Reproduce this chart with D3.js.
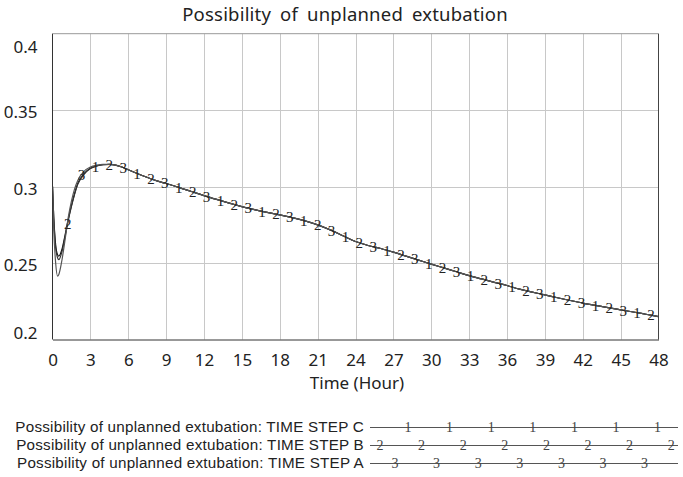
<!DOCTYPE html>
<html>
<head>
<meta charset="utf-8">
<script src="https://cdn.jsdelivr.net/npm/d3@7"></script>
<style>
  html, body { margin: 0; padding: 0; background: #fff; }
  svg { display: block; }
</style>
</head>
<body>
<svg id="chart" width="683" height="477"></svg>
<script>
// ---------- data ----------
const chartTitle = "Possibility of unplanned extubation";
const xTitle = "Time (Hour)";
const xTicks = [0, 3, 6, 9, 12, 15, 18, 21, 24, 27, 30, 33, 36, 39, 42, 45, 48];
const yTicks = [0.2, 0.25, 0.3, 0.35, 0.4];

const hours = [0, 0.1, 0.25, 0.4, 0.5, 0.75, 1, 1.25, 1.5, 1.75, 2, 2.5, 3, 3.5, 4,
  4.5, 5, 5.5, 6, 7, 8, 9, 10, 11, 12, 13, 14, 15, 16, 17, 18, 19, 20, 21, 22, 23, 24,
  25, 26, 27, 28, 29, 30, 31, 32, 33, 34, 35, 36, 37, 38, 39, 40, 41, 42, 43, 44, 45, 46, 47, 48];

// early hours (0 .. 4) differ by series
const headC = [0.300, 0.280, 0.262, 0.2555, 0.2545, 0.259, 0.2685, 0.2785, 0.2875, 0.2955, 0.302, 0.3085, 0.312, 0.3136, 0.3143];
const headB = [0.300, 0.279, 0.260, 0.2535, 0.2522, 0.2575, 0.2675, 0.278, 0.287, 0.295, 0.3015, 0.308, 0.3118, 0.3135, 0.3143];
const headA = [0.300, 0.272, 0.250, 0.2415, 0.2425, 0.252, 0.2655, 0.280, 0.2905, 0.2985, 0.304, 0.310, 0.3128, 0.314, 0.3145];
// from 4.5 h on all three coincide
const commonTail = [0.3145, 0.3141, 0.3128, 0.311, 0.3076, 0.3045, 0.302, 0.2995, 0.2968, 0.2941,
  0.2916, 0.2892, 0.2869, 0.2849, 0.2831, 0.2815, 0.2797, 0.2776, 0.275, 0.2717, 0.2679, 0.2641,
  0.2615, 0.2595, 0.2571, 0.2545, 0.2519, 0.2493, 0.2468, 0.2443, 0.2418, 0.2396, 0.2374, 0.2353,
  0.2329, 0.231, 0.2292, 0.2273, 0.2255, 0.2238, 0.2223, 0.2208, 0.2194, 0.218, 0.2165, 0.215];

const stepC = headC.concat(commonTail);
const stepB = headB.concat(commonTail);
const stepA = headA.concat(commonTail);

const seriesNames = [
  "Possibility of unplanned extubation: TIME STEP C",
  "Possibility of unplanned extubation: TIME STEP B",
  "Possibility of unplanned extubation: TIME STEP A"
];
const seriesMarks = ["1", "2", "3"];
const seriesValues = [stepC, stepB, stepA];
const markerFirst = [3.4, 1.2, 2.3];   // hour of first label along each line
const markerEvery = 3.3;               // hours between labels on the same line

// ---------- layout ----------
const svg = d3.select("#chart");
const M = { left: 52.5, right: 658.5, top: 33.7, bottom: 339.5 };
const FONT = "'Noto Sans', 'Open Sans', sans-serif";
const LEGFONT = "'Liberation Sans', Arial, sans-serif";
const SERIF = "'Liberation Serif', 'DejaVu Serif', serif";

const x = d3.scaleLinear().domain([0, 48]).range([M.left, M.right]);
const y = d3.scaleLinear().domain([0.2, 0.4]).range([M.bottom, M.top]);

// gridlines
svg.append("g")
  .selectAll("line.vg").data(xTicks.slice(1, -1)).join("line")
  .attr("x1", d => Math.round(x(d)) + 0.5).attr("x2", d => Math.round(x(d)) + 0.5)
  .attr("y1", M.top).attr("y2", M.bottom)
  .attr("stroke", "#c8c8c8").attr("stroke-width", 1);
svg.append("g")
  .selectAll("line.hg").data(yTicks.slice(1, -1)).join("line")
  .attr("x1", M.left).attr("x2", M.right)
  .attr("y1", d => Math.round(y(d)) + 0.5).attr("y2", d => Math.round(y(d)) + 0.5)
  .attr("stroke", "#c8c8c8").attr("stroke-width", 1);

// frame
svg.append("line").attr("x1", M.left).attr("x2", M.right).attr("y1", M.top).attr("y2", M.top)
  .attr("stroke", "#999");
svg.append("line").attr("x1", M.right).attr("x2", M.right).attr("y1", M.top).attr("y2", M.bottom)
  .attr("stroke", "#444");

// axes (labels only, no tick marks)
const gx = svg.append("g").attr("transform", `translate(0,${M.bottom})`)
  .call(d3.axisBottom(x).tickValues(xTicks).tickSize(0).tickPadding(14).tickFormat(d3.format("d")));
gx.select(".domain").attr("stroke", "#333");
gx.selectAll("text").attr("font-family", FONT).attr("font-size", 17).attr("fill", "#222");

const gy = svg.append("g").attr("transform", `translate(${M.left},0)`)
  .call(d3.axisLeft(y).tickValues(yTicks).tickSize(0).tickPadding(15).tickFormat(d => String(d)));
gy.select(".domain").remove();
gy.selectAll("text").attr("font-family", FONT).attr("font-size", 17).attr("fill", "#222");
// end labels are kept inside the frame
gy.selectAll(".tick").filter(d => d === 0.4).select("text").attr("dy", "1.1em");
gy.selectAll(".tick").filter(d => d === 0.2).select("text").attr("dy", "-0.08em");
gy.selectAll(".tick").filter(d => d !== 0.4 && d !== 0.2).select("text").attr("dy", "0.45em");
svg.append("line").attr("x1", M.left).attr("x2", M.left).attr("y1", M.top).attr("y2", M.bottom)
  .attr("stroke", "#333");

// titles
svg.append("text").attr("x", 345).attr("y", 21).attr("text-anchor", "middle")
  .attr("font-family", FONT).attr("font-size", 18.5).attr("letter-spacing", 0.2)
  .attr("word-spacing", 4).attr("fill", "#222").text(chartTitle);
svg.append("text").attr("x", 357).attr("y", 389).attr("text-anchor", "middle")
  .attr("font-family", FONT).attr("font-size", 17).attr("fill", "#222").text(xTitle);

// lines
const line = d3.line().x(d => x(d[0])).y(d => y(d[1])).curve(d3.curveMonotoneX);
svg.append("clipPath").attr("id", "plotclip").append("rect")
  .attr("x", M.left).attr("y", M.top).attr("width", M.right - M.left).attr("height", M.bottom - M.top);

const lineColors = ["#111", "#333", "#555"];
seriesValues.forEach((vals, i) => {
  const pts = hours.map((h, k) => [h, vals[k]]);
  svg.append("path").datum(pts).attr("d", line)
    .attr("fill", "none").attr("stroke", lineColors[i]).attr("stroke-width", 1.2)
    .attr("clip-path", "url(#plotclip)");
});

// number labels along lines
function valueAt(vals, h) {
  const i = Math.max(1, d3.bisectLeft(hours, h));
  const h0 = hours[i - 1], h1 = hours[i];
  const t = (h - h0) / (h1 - h0);
  return vals[i - 1] + t * (vals[i] - vals[i - 1]);
}
seriesValues.forEach((vals, i) => {
  const marks = d3.range(markerFirst[i], 48, markerEvery);
  svg.append("g").selectAll("text").data(marks).join("text")
    .attr("x", h => x(h)).attr("y", h => y(valueAt(vals, h)))
    .attr("text-anchor", "middle").attr("dy", "0.35em")
    .attr("font-family", SERIF).attr("font-size", 15).attr("fill", "#222")
    .text(seriesMarks[i]);
});

// legend
const legendRowY = [427, 445, 463];
const legX = d3.scaleLinear().domain([0, 1]).range([370, 678]);
const legendMarkFirst = [38, 10, 25];
const legendMarkEvery = 41.6;
seriesNames.forEach((name, i) => {
  const yy = legendRowY[i];
  svg.append("text").attr("x", 364).attr("y", yy).attr("dy", "0.36em").attr("text-anchor", "end")
    .attr("font-family", LEGFONT).attr("font-size", 15.2).attr("letter-spacing", 0.24)
    .attr("fill", "#222").text(name);
  svg.append("line").attr("x1", legX(0)).attr("x2", legX(1)).attr("y1", yy + 0.5).attr("y2", yy + 0.5)
    .attr("stroke", "#555").attr("stroke-width", 1.2);
  const pos = d3.range(legX(0) + legendMarkFirst[i], legX(1) + 1, legendMarkEvery);
  svg.append("g").selectAll("text").data(pos).join("text")
    .attr("x", d => d).attr("y", yy).attr("dy", "0.35em").attr("text-anchor", "middle")
    .attr("font-family", SERIF).attr("font-size", 14).attr("fill", "#444")
    .text(seriesMarks[i]);
});
</script>
</body>
</html>
